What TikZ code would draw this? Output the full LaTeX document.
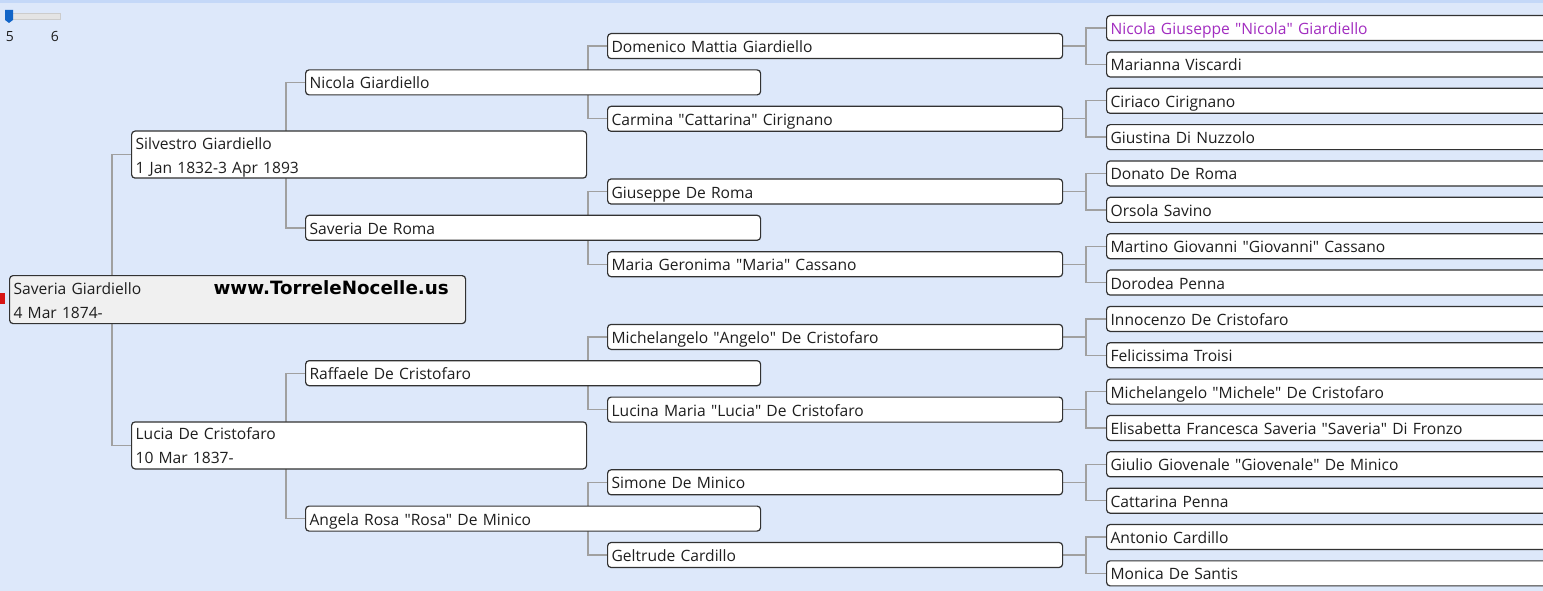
\documentclass[tikz,border=0pt]{standalone}
\usepackage{fontspec}
\setmainfont{Open Sans}
\newfontfamily\wmfont{DejaVu Sans}
\newcommand{\qt}{\textquotedbl}
\definecolor{bgblue}{RGB}{221,232,250}
\definecolor{topblue}{RGB}{196,216,248}
\definecolor{boxline}{RGB}{50,50,50}
\definecolor{connline}{RGB}{160,160,160}
\definecolor{txt}{RGB}{30,30,30}
\definecolor{purp}{RGB}{162,45,192}
\definecolor{rootfill}{RGB}{240,240,240}
\definecolor{thumb}{RGB}{16,100,200}
\definecolor{track}{RGB}{228,228,228}
\definecolor{marker}{RGB}{215,20,20}
\pgfdeclarelayer{backdrop}
\pgfdeclarelayer{background}
\pgfsetlayers{backdrop,background,main}
\tikzset{
  person/.style={draw=boxline, line width=1.2pt, rounded corners=3.5pt, fill=white,
    anchor=north west, inner xsep=4pt, inner ysep=0pt, text width=447pt,
    text height=13pt, text depth=0pt,
    minimum height=25pt, align=left, text=txt, font=\fontsize{15.6}{24}\selectfont},
  twoline/.style={person, minimum height=47pt, text depth=24pt},
  rootbox/.style={twoline, fill=rootfill, text width=448pt, minimum height=48pt},
  farbox/.style={person, text width=452pt},
  conn/.style={draw=connline, line width=1.4pt},
}
\begin{document}
\begin{tikzpicture}[x=1pt,y=-1pt]
\clip (0,0) rectangle (1543,591);
\begin{pgfonlayer}{backdrop}
  \fill[bgblue] (0,0) rectangle (1543,591);
  \fill[topblue] (0,0) rectangle (1543,3);
\end{pgfonlayer}

% slider
\node[draw=black!20, fill=track, minimum width=55pt, minimum height=6pt, inner sep=0pt, anchor=north west] (track) at (5,13) {};
\fill[thumb] (5,10) -- (13,10) -- (13,20) -- (9,23) -- (5,20) -- cycle;
\node[font=\fontsize{14}{16}\selectfont, text=txt] (lab5) at (10,37) {5};
\node[font=\fontsize{14}{16}\selectfont, text=txt] (lab6) at (55,37) {6};

% generation 0
\node[rootbox] (g0) at (9,275) {Saveria Giardiello\\4 Mar 1874-};
\fill[marker] (0,293) rectangle (5,304);
\node[font=\wmfont\bfseries\fontsize{18.3}{20}\selectfont, text=black, anchor=west] (wm) at (210,287.5) {www.TorreleNocelle.us};

% generation 1
\node[twoline] (g1a) at (131,130.5) {Silvestro Giardiello\\1 Jan 1832-3 Apr 1893};
\node[twoline] (g1b) at (131,421.3) {Lucia De Cristofaro\\10 Mar 1837-};

% generation 2
\node[person] (g2a) at (305,69.3) {Nicola Giardiello};
\node[person] (g2b) at (305,214.7) {Saveria De Roma};
\node[person] (g2c) at (305,360.1) {Raffaele De Cristofaro};
\node[person] (g2d) at (305,505.5) {Angela Rosa \qt Rosa\qt{} De Minico};

% generation 3
\node[person] (g3a) at (607,33) {Domenico Mattia Giardiello};
\node[person] (g3b) at (607,105.7) {Carmina \qt Cattarina\qt{} Cirignano};
\node[person] (g3c) at (607,178.4) {Giuseppe De Roma};
\node[person] (g3d) at (607,251.1) {Maria Geronima \qt Maria\qt{} Cassano};
\node[person] (g3e) at (607,323.8) {Michelangelo \qt Angelo\qt{} De Cristofaro};
\node[person] (g3f) at (607,396.5) {Lucina Maria \qt Lucia\qt{} De Cristofaro};
\node[person] (g3g) at (607,469.2) {Simone De Minico};
\node[person] (g3h) at (607,541.9) {Geltrude Cardillo};

% generation 4
\node[farbox, text=purp] (g4a) at (1106,15) {Nicola Giuseppe \qt Nicola\qt{} Giardiello};
\node[farbox] (g4b) at (1106,51.35) {Marianna Viscardi};
\node[farbox] (g4c) at (1106,87.7) {Ciriaco Cirignano};
\node[farbox] (g4d) at (1106,124.05) {Giustina Di Nuzzolo};
\node[farbox] (g4e) at (1106,160.4) {Donato De Roma};
\node[farbox] (g4f) at (1106,196.75) {Orsola Savino};
\node[farbox] (g4g) at (1106,233.1) {Martino Giovanni \qt Giovanni\qt{} Cassano};
\node[farbox] (g4h) at (1106,269.45) {Dorodea Penna};
\node[farbox] (g4i) at (1106,305.8) {Innocenzo De Cristofaro};
\node[farbox] (g4j) at (1106,342.15) {Felicissima Troisi};
\node[farbox] (g4k) at (1106,378.5) {Michelangelo \qt Michele\qt{} De Cristofaro};
\node[farbox] (g4l) at (1106,414.85) {Elisabetta Francesca Saveria \qt Saveria\qt{} Di Fronzo};
\node[farbox] (g4m) at (1106,451.2) {Giulio Giovenale \qt Giovenale\qt{} De Minico};
\node[farbox] (g4n) at (1106,487.55) {Cattarina Penna};
\node[farbox] (g4o) at (1106,523.9) {Antonio Cardillo};
\node[farbox] (g4p) at (1106,560.25) {Monica De Santis};

% connectors
\begin{pgfonlayer}{background}
  \draw[conn] (g1a.west) -- ++(-19,0) |- (g1b.west);
  \draw[conn] (g2a.west) -- ++(-19,0) |- (g2b.west);
  \draw[conn] (g2c.west) -- ++(-19,0) |- (g2d.west);
  \draw[conn] (g3a.west) -- ++(-19,0) |- (g3b.west);
  \draw[conn] (g3c.west) -- ++(-19,0) |- (g3d.west);
  \draw[conn] (g3e.west) -- ++(-19,0) |- (g3f.west);
  \draw[conn] (g3g.west) -- ++(-19,0) |- (g3h.west);
  \foreach \p/\f/\m in {g3a/g4a/g4b, g3b/g4c/g4d, g3c/g4e/g4f, g3d/g4g/g4h,
                        g3e/g4i/g4j, g3f/g4k/g4l, g3g/g4m/g4n, g3h/g4o/g4p}{
    \draw[conn] (\p.east) -- ++(23,0);
    \draw[conn] (\f.west) -- ++(-20,0) |- (\m.west);
  }
\end{pgfonlayer}
\end{tikzpicture}
\end{document}
